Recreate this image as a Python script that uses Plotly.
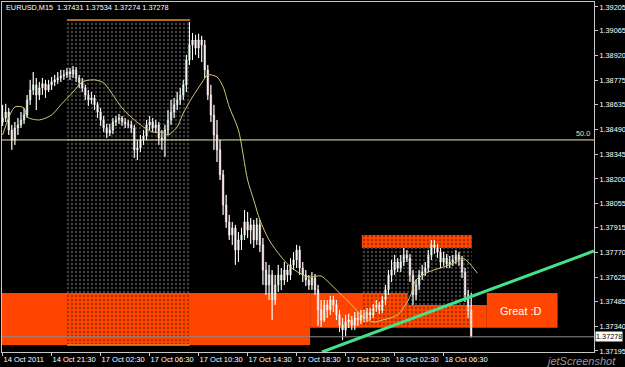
import plotly.graph_objects as go

# ---------------- data ----------------
symbol_text = "EURUSD,M15  1.37431 1.37534 1.37274 1.37278"

first_open = 1.38533
closes = [
    1.38556, 1.38591, 1.38486, 1.38428, 1.38498, 1.38516, 1.38545, 1.38574, 1.38662, 1.38720,
    1.38750, 1.38691, 1.38732, 1.38756, 1.38720, 1.38750, 1.38767, 1.38779, 1.38790, 1.38802,
    1.38808, 1.38825, 1.38814, 1.38837, 1.38790, 1.38767, 1.38732, 1.38691, 1.38662, 1.38673,
    1.38633, 1.38591, 1.38545, 1.38498, 1.38468, 1.38486, 1.38533, 1.38545, 1.38556, 1.38533,
    1.38522, 1.38516, 1.38498, 1.38370, 1.38381, 1.38428, 1.38451, 1.38516, 1.38533, 1.38498,
    1.38516, 1.38439, 1.38428, 1.38486, 1.38545, 1.38591, 1.38633, 1.38662, 1.38691, 1.38750,
    1.38895, 1.38983, 1.39012, 1.38965, 1.39012, 1.38983, 1.38837, 1.38691, 1.38574, 1.38457,
    1.38370, 1.38224, 1.38048, 1.37949, 1.37873, 1.37914, 1.37785, 1.37844, 1.37873, 1.37949,
    1.37902, 1.37932, 1.37844, 1.37932, 1.37815, 1.37668, 1.37581, 1.37639, 1.37493, 1.37581,
    1.37639, 1.37610, 1.37668, 1.37639, 1.37698, 1.37727, 1.37785, 1.37680, 1.37639, 1.37610,
    1.37581, 1.37621, 1.37552, 1.37435, 1.37376, 1.37464, 1.37435, 1.37493, 1.37464, 1.37406,
    1.37347, 1.37318, 1.37364, 1.37376, 1.37347, 1.37388, 1.37376, 1.37406, 1.37388, 1.37423,
    1.37406, 1.37446, 1.37464, 1.37435, 1.37493, 1.37552, 1.37639, 1.37668, 1.37715, 1.37680,
    1.37715, 1.37756, 1.37738, 1.37639, 1.37523, 1.37581, 1.37639, 1.37656, 1.37680, 1.37756,
    1.37815, 1.37797, 1.37773, 1.37715, 1.37738, 1.37704, 1.37715, 1.37727, 1.37756, 1.37727,
    1.37656, 1.37523, 1.37431, 1.37278,
]
highs = [
    1.38633, 1.38639, 1.38615, 1.38516, 1.38533, 1.38556, 1.38591, 1.38615, 1.38691, 1.38779,
    1.38825, 1.38790, 1.38767, 1.38790, 1.38779, 1.38779, 1.38796, 1.38808, 1.38825, 1.38837,
    1.38837, 1.38848, 1.38848, 1.38860, 1.38854, 1.38808, 1.38790, 1.38750, 1.38720, 1.38708,
    1.38691, 1.38650, 1.38615, 1.38568, 1.38522, 1.38522, 1.38556, 1.38568, 1.38580, 1.38568,
    1.38556, 1.38545, 1.38539, 1.38516, 1.38428, 1.38457, 1.38486, 1.38545, 1.38568, 1.38556,
    1.38545, 1.38533, 1.38486, 1.38516, 1.38603, 1.38662, 1.38673, 1.38708, 1.38732, 1.38779,
    1.38925, 1.39117, 1.39053, 1.39042, 1.39048, 1.39036, 1.39012, 1.38866, 1.38750, 1.38633,
    1.38545, 1.38428, 1.38253, 1.38107, 1.37990, 1.37949, 1.37932, 1.37890, 1.37914, 1.38019,
    1.38007, 1.37972, 1.37961, 1.37972, 1.37961, 1.37855, 1.37715, 1.37698, 1.37668, 1.37639,
    1.37698, 1.37680, 1.37715, 1.37698, 1.37738, 1.37773, 1.37815, 1.37809, 1.37715, 1.37668,
    1.37639, 1.37656, 1.37645, 1.37581, 1.37493, 1.37493, 1.37493, 1.37517, 1.37517, 1.37493,
    1.37435, 1.37388, 1.37406, 1.37412, 1.37400, 1.37423, 1.37423, 1.37435, 1.37435, 1.37446,
    1.37446, 1.37470, 1.37493, 1.37481, 1.37517, 1.37581, 1.37668, 1.37727, 1.37756, 1.37738,
    1.37756, 1.37797, 1.37785, 1.37762, 1.37668, 1.37610, 1.37668, 1.37698, 1.37715, 1.37785,
    1.37844, 1.37844, 1.37821, 1.37797, 1.37773, 1.37762, 1.37750, 1.37756, 1.37785, 1.37773,
    1.37750, 1.37680, 1.37552, 1.37534,
]
lows = [
    1.38510, 1.38533, 1.38457, 1.38370, 1.38399, 1.38457, 1.38498, 1.38522, 1.38556, 1.38633,
    1.38691, 1.38603, 1.38662, 1.38691, 1.38673, 1.38708, 1.38720, 1.38744, 1.38756, 1.38767,
    1.38779, 1.38790, 1.38779, 1.38790, 1.38767, 1.38732, 1.38708, 1.38662, 1.38627, 1.38639,
    1.38603, 1.38556, 1.38510, 1.38474, 1.38439, 1.38451, 1.38463, 1.38510, 1.38522, 1.38510,
    1.38498, 1.38498, 1.38468, 1.38323, 1.38311, 1.38358, 1.38399, 1.38428, 1.38486, 1.38474,
    1.38468, 1.38399, 1.38370, 1.38329, 1.38457, 1.38516, 1.38556, 1.38603, 1.38633, 1.38662,
    1.38708, 1.38866, 1.38895, 1.38925, 1.38907, 1.38883, 1.38790, 1.38662, 1.38533, 1.38370,
    1.38299, 1.38194, 1.37990, 1.37914, 1.37844, 1.37815, 1.37698, 1.37715, 1.37785, 1.37844,
    1.37855, 1.37821, 1.37797, 1.37815, 1.37773, 1.37581, 1.37523, 1.37493, 1.37376, 1.37464,
    1.37540, 1.37552, 1.37581, 1.37598, 1.37610, 1.37668, 1.37680, 1.37639, 1.37598, 1.37575,
    1.37552, 1.37552, 1.37523, 1.37341, 1.37335, 1.37364, 1.37388, 1.37406, 1.37423, 1.37376,
    1.37306, 1.37259, 1.37283, 1.37329, 1.37318, 1.37318, 1.37341, 1.37353, 1.37364, 1.37364,
    1.37376, 1.37388, 1.37423, 1.37412, 1.37417, 1.37464, 1.37523, 1.37598, 1.37639, 1.37656,
    1.37656, 1.37692, 1.37715, 1.37598, 1.37464, 1.37493, 1.37552, 1.37610, 1.37633, 1.37656,
    1.37727, 1.37762, 1.37738, 1.37680, 1.37692, 1.37680, 1.37680, 1.37692, 1.37704, 1.37692,
    1.37621, 1.37481, 1.37388, 1.37274,
]

# moving average line (bar index, price)
ma_bars = [0, 4, 7, 8, 12, 16, 19, 23, 26, 30, 33, 36, 39, 43, 46, 49, 52, 54, 57, 59,
           62, 65, 67, 70, 72, 74, 77, 80, 82, 84, 87, 91, 94, 97, 100, 104, 106, 110,
           114, 117, 121, 124, 129, 133, 135, 139, 144, 148, 150, 152, 155]
ma_vals = [1.38457, 1.38621, 1.38615, 1.38562, 1.38545, 1.38574, 1.38633, 1.38708, 1.38767,
           1.38779, 1.38761, 1.38691, 1.38615, 1.38545, 1.38504, 1.38474, 1.38474, 1.38457,
           1.38504, 1.38585, 1.38679, 1.38761, 1.38808, 1.38796, 1.38738, 1.38621, 1.38486,
           1.38194, 1.38077, 1.37961, 1.37844, 1.37744, 1.37686, 1.37650, 1.37627, 1.37633,
           1.37604, 1.37534, 1.37464, 1.37406, 1.37364, 1.37376, 1.37406, 1.37511, 1.37610,
           1.37656, 1.37686, 1.37715, 1.37738, 1.37715, 1.37650]

x_tick_bars = [0, 16, 32, 48, 64, 80, 96, 112, 128, 144]
x_tick_labels = ["14 Oct 2011", "14 Oct 21:30", "17 Oct 02:30", "17 Oct 06:30",
                 "17 Oct 10:30", "17 Oct 14:30", "17 Oct 18:30", "17 Oct 22:30",
                 "18 Oct 02:30", "18 Oct 06:30"]
y_tick_vals = [1.39205, 1.39065, 1.38920, 1.38775, 1.38635, 1.38490, 1.38345, 1.38200,
               1.38055, 1.37915, 1.37770, 1.37625, 1.37485, 1.37340, 1.37195]
y_tick_labels = ["%.5f" % v for v in y_tick_vals]

level_50 = 1.38428
level_50_label = "50.0"
current_price = 1.37278
current_label = "1.37278"

trend_bars = [104.3, 193.1]
trend_prices = [1.37189, 1.37779]

# orange zone pieces (bar from, bar to, top price, bottom price)
zone_x0 = [-1.0, 100.4, 132.3, 158.1]
zone_x1 = [100.4, 132.3, 158.1, 181.2]
zone_top = [1.37534, 1.37534, 1.37464, 1.37534]
zone_bot = [1.37230, 1.37330, 1.37330, 1.37330]

# session box 1 (dotted)
box1_x = [21.0, 61.2]
box1_top = 1.39129
box1_bot = 1.37230
# session box 2 (dotted with orange top)
box2_x = [117.3, 153.2]
box2_top = 1.37873
box2_top_bot = 1.37797
box2_split = 132.3

great_text = "Great :D"
great_pos = (169.2, 1.37429)
watermark = "jetScreenshot"

ORANGE = "#ff4500"

# ---------------- figure ----------------
bars = list(range(len(closes)))
opens = [first_open] + closes[:-1]

fig = go.Figure()


def rects(spec):
    xs, ys = [], []
    for x0, x1, y0, y1 in spec:
        xs += [x0, x1, x1, x0, x0, None]
        ys += [y0, y0, y1, y1, y0, None]
    return xs, ys


gray_dots = [
    (box1_x[0], box1_x[1], zone_top[0], box1_top - 0.00012),
    (box2_x[0], box2_x[1], zone_top[1], box2_top_bot),
    (box2_split, box2_x[1], zone_top[2], zone_top[1]),
]
dark_dots = [
    (box1_x[0], box1_x[1], box1_bot, zone_top[0]),
    (box2_x[0], box2_x[1], box2_top_bot, box2_top),
    (box2_x[0], box2_split, zone_bot[1], zone_top[1]),
    (box2_split, box2_x[1], zone_bot[2], zone_top[2]),
]

for spec, col in [(gray_dots, "#808080"), (dark_dots, "#5a1c00")]:
    xs, ys = rects(spec)
    fig.add_trace(go.Scatter(
        x=xs, y=ys, mode="none", fill="toself", fillcolor="rgba(0,0,0,0)",
        fillpattern=dict(shape=".", fgcolor=col, bgcolor="rgba(0,0,0,0)",
                         size=4, solidity=0.28),
        hoverinfo="skip", showlegend=False))

# white wicks (high-low) under the bodies
wick_x, wick_y = [], []
for b, h, l in zip(bars, highs, lows):
    wick_x += [b, b, None]
    wick_y += [l, h, None]
fig.add_trace(go.Scatter(x=wick_x, y=wick_y, mode="lines",
                         line=dict(color="#ffffff", width=1),
                         hoverinfo="skip", showlegend=False))

fig.add_trace(go.Candlestick(
    x=bars, open=opens, high=highs, low=lows, close=closes,
    increasing=dict(line=dict(color="#e8f8e8", width=0.5), fillcolor="#8fd49a"),
    decreasing=dict(line=dict(color="#fbe8eb", width=0.5), fillcolor="#ebb4bd"),
    whiskerwidth=0, showlegend=False, hoverinfo="skip"))

fig.add_trace(go.Scatter(
    x=ma_bars, y=ma_vals, mode="lines",
    line=dict(color="#cfc67a", width=1, shape="spline", smoothing=0.8),
    hoverinfo="skip", showlegend=False))

shapes = []
for x0, x1, t, b in zip(zone_x0, zone_x1, zone_top, zone_bot):
    shapes.append(dict(type="rect", xref="x", yref="y", x0=x0, x1=x1, y0=b, y1=t,
                       fillcolor=ORANGE, line=dict(width=0), layer="below"))
shapes.append(dict(type="rect", xref="x", yref="y", x0=box2_x[0], x1=box2_x[1],
                   y0=box2_top_bot, y1=box2_top, fillcolor=ORANGE,
                   line=dict(width=0), layer="below"))
for yv in [box1_top, box1_bot]:
    shapes.append(dict(type="line", xref="x", yref="y", x0=box1_x[0], x1=box1_x[1],
                       y0=yv, y1=yv, line=dict(color="#f08a20", width=1.5), layer="above"))
shapes.append(dict(type="line", xref="paper", yref="y", x0=0, x1=1,
                   y0=level_50, y1=level_50, line=dict(color="#eeeea8", width=1),
                   layer="above"))
shapes.append(dict(type="line", xref="paper", yref="y", x0=0, x1=1,
                   y0=current_price, y1=current_price,
                   line=dict(color="#8a8a8a", width=1), layer="above"))
shapes.append(dict(type="line", xref="x", yref="y", x0=trend_bars[0], x1=trend_bars[1],
                   y0=trend_prices[0], y1=trend_prices[1],
                   line=dict(color="#46e08a", width=3), layer="above"))

FONT = "Liberation Sans"
annotations = [
    dict(text=symbol_text, xref="paper", yref="paper", x=0.004, y=0.983,
         xanchor="left", yanchor="middle", showarrow=False,
         font=dict(family=FONT, size=7.3, color="#ffffff")),
    dict(text=level_50_label, xref="paper", yref="y", x=1, y=level_50,
         xanchor="right", yanchor="bottom", xshift=-2, showarrow=False,
         font=dict(family=FONT, size=7.3, color="#e6e6a0")),
    dict(text=current_label, xref="paper", yref="y", x=1, y=current_price,
         xanchor="left", yanchor="middle", xshift=1, showarrow=False,
         bgcolor="#ffffff", borderpad=0,
         font=dict(family=FONT, size=7.3, color="#000000")),
    dict(text=great_text, xref="x", yref="y", x=great_pos[0], y=great_pos[1],
         xanchor="center", yanchor="middle", showarrow=False,
         font=dict(family=FONT, size=11, color="#ffffff")),
    dict(text=watermark, xref="paper", yref="paper", x=0.915, y=-0.025,
         xanchor="left", yanchor="middle", showarrow=False,
         font=dict(family=FONT, size=11, color="#9a9a9a", style="italic")),
]

fig.update_layout(
    width=625, height=367,
    margin=dict(l=2, r=31, t=2, b=15, autoexpand=False),
    paper_bgcolor="#000000", plot_bgcolor="#000000",
    showlegend=False, boxgap=0.25,
    shapes=shapes, annotations=annotations,
    xaxis=dict(range=[-0.2, 193.1], showgrid=False, zeroline=False,
               tickmode="array", tickvals=x_tick_bars, ticktext=x_tick_labels,
               ticks="outside", ticklen=3, tickcolor="#c8c8c8", tickangle=0,
               ticklabelposition="outside right", automargin=False,
               tickfont=dict(family=FONT, size=7.5, color="#ffffff"),
               showline=True, linecolor="#c8c8c8", linewidth=1, mirror=True,
               rangeslider=dict(visible=False), fixedrange=True),
    yaxis=dict(range=[1.37189, 1.39234], side="right", showgrid=False, zeroline=False,
               tickmode="array", tickvals=y_tick_vals, ticktext=y_tick_labels,
               ticks="outside", ticklen=3, tickcolor="#c8c8c8", automargin=False,
               tickfont=dict(family=FONT, size=7.3, color="#ffffff"),
               showline=True, linecolor="#c8c8c8", linewidth=1, mirror=True,
               fixedrange=True),
)

fig.write_html("out.html")
